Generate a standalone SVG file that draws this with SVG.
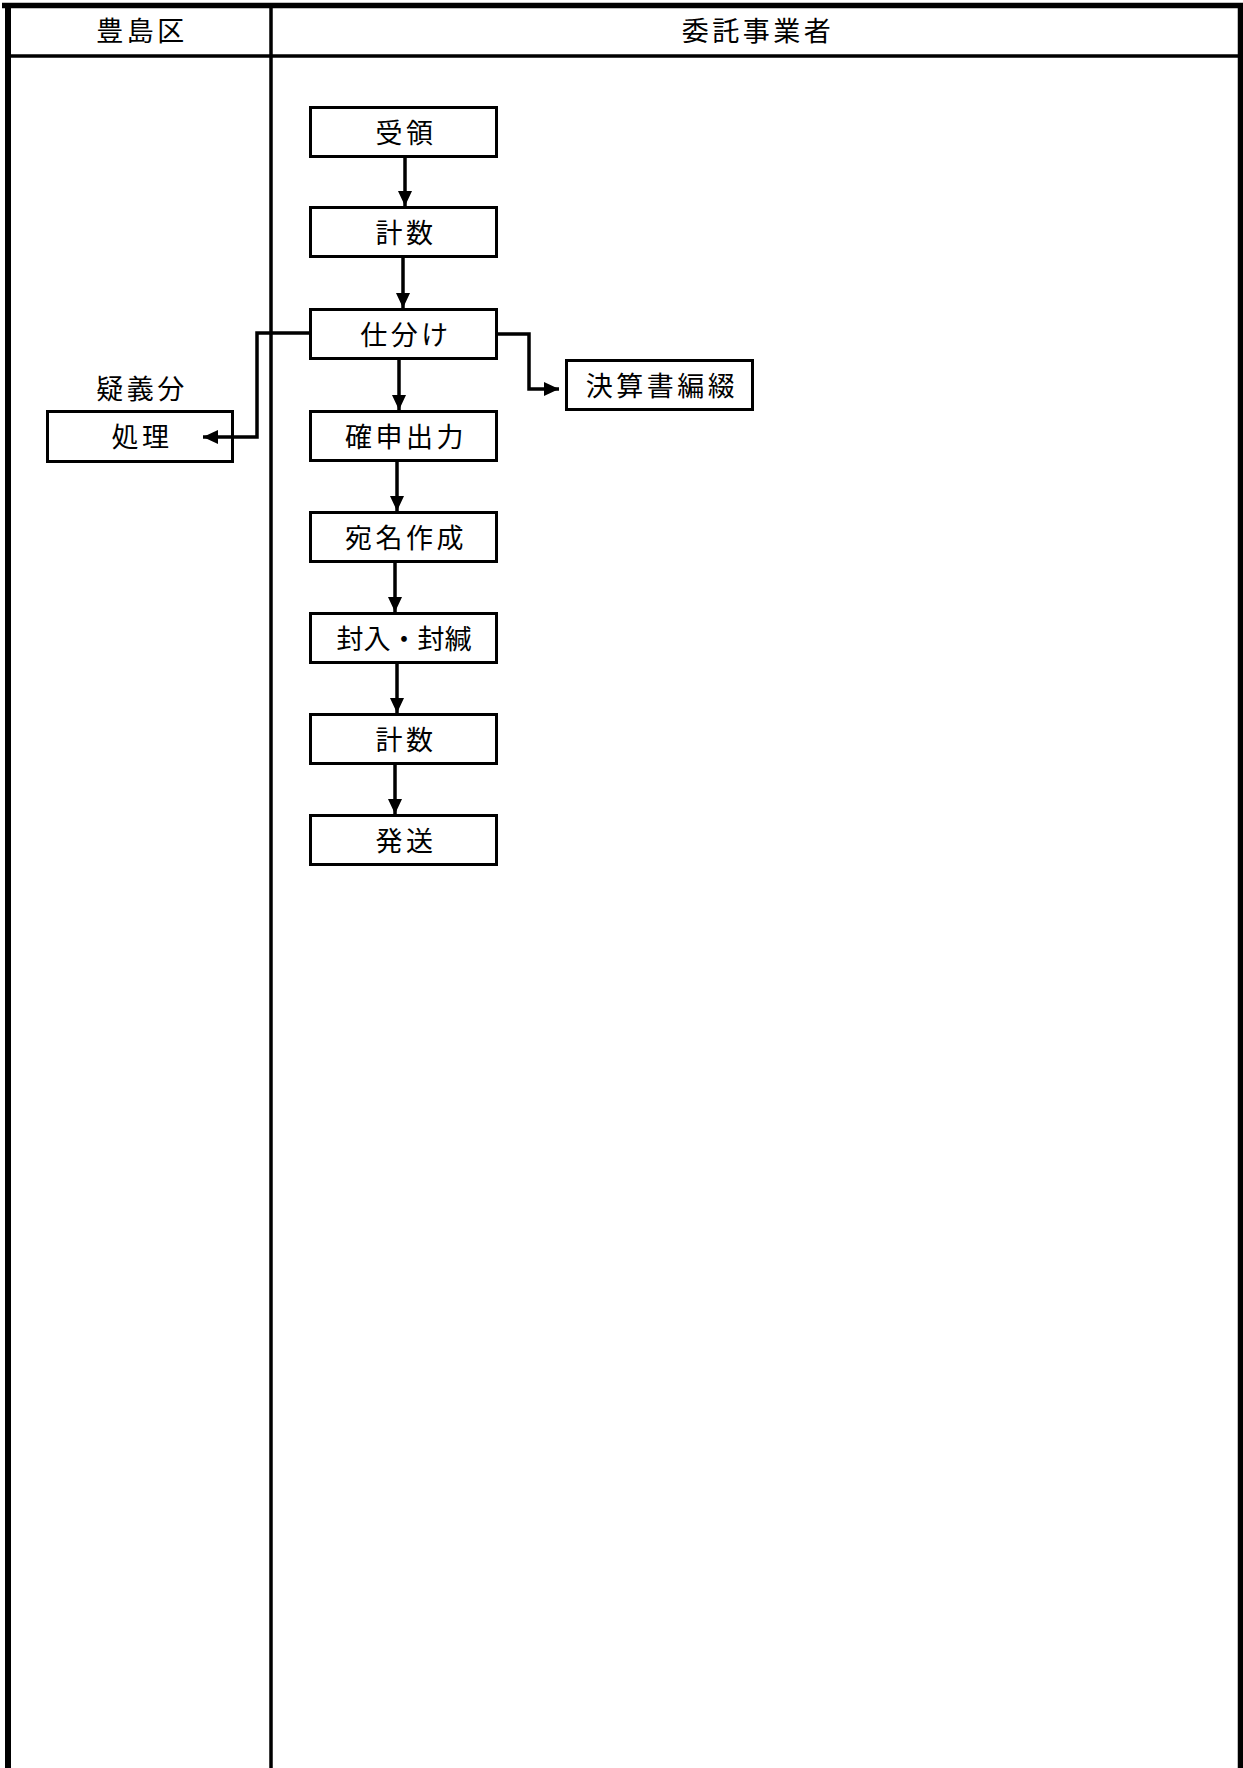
<svg xmlns="http://www.w3.org/2000/svg" width="1243" height="1768" viewBox="0 0 1243 1768">
<style>
.t{font-family:"Noto Sans CJK JP","Noto Sans CJK SC",sans-serif;font-size:27px;letter-spacing:3.5px;text-anchor:middle;dominant-baseline:central;fill:#000}
.tight{letter-spacing:0}
.box{fill:#fff;stroke:#000;stroke-width:3}
.c{fill:none;stroke:#000;stroke-width:3.5}
</style>
<defs>
<marker id="ah" markerUnits="userSpaceOnUse" markerWidth="16" markerHeight="14" refX="15" refY="7" orient="auto">
<path d="M0,0 L15,7 L0,14 z" fill="#000"/>
</marker>
</defs>
<rect width="1243" height="1768" fill="#fff"/>
<g id="frame">
<line x1="2" y1="5.5" x2="1243" y2="5.5" stroke="#000" stroke-width="5.5"/>
<line x1="8" y1="3" x2="8" y2="1768" stroke="#000" stroke-width="6"/>
<line x1="1240.5" y1="3" x2="1240.5" y2="1768" stroke="#000" stroke-width="5.5"/>
<line x1="8" y1="56" x2="1240" y2="56" stroke="#000" stroke-width="3.5"/>
<line x1="271" y1="5" x2="271" y2="1768" stroke="#000" stroke-width="3.5"/>
</g>
<g id="header">
<text class="t" x="142" y="29.5">豊島区</text>
<text class="t" x="758" y="29.5">委託事業者</text>
</g>
<g id="connectors">
<line class="c" x1="405" y1="158" x2="405" y2="206" marker-end="url(#ah)"/>
<line class="c" x1="403" y1="258" x2="403" y2="308" marker-end="url(#ah)"/>
<line class="c" x1="399" y1="360" x2="399" y2="410" marker-end="url(#ah)"/>
<line class="c" x1="397" y1="462" x2="397" y2="511" marker-end="url(#ah)"/>
<line class="c" x1="395" y1="563" x2="395" y2="612" marker-end="url(#ah)"/>
<line class="c" x1="397" y1="664" x2="397" y2="713" marker-end="url(#ah)"/>
<line class="c" x1="395" y1="765" x2="395" y2="814" marker-end="url(#ah)"/>
<path class="c" d="M497,334 H529 V389 H559" marker-end="url(#ah)"/>
</g>
<g id="n-shori">
<rect class="box" x="47.5" y="411.5" width="185" height="50"/>
<text class="t" x="142" y="435">処理</text>
</g>
<g id="c-shiwake-left">
<path class="c" d="M309,333 H257 V437 H203" marker-end="url(#ah)"/>
</g>
<g id="n-gigi">
<text class="t" x="142" y="387">疑義分</text>
</g>
<g id="n-juryo">
<rect class="box" x="310.5" y="107.5" width="186" height="49"/>
<text class="t" x="406" y="131">受領</text>
</g>
<g id="n-keisu1">
<rect class="box" x="310.5" y="207.5" width="186" height="49"/>
<text class="t" x="406" y="231">計数</text>
</g>
<g id="n-shiwake">
<rect class="box" x="310.5" y="309.5" width="186" height="49"/>
<text class="t" x="406" y="333">仕分け</text>
</g>
<g id="n-kessan">
<rect class="box" x="566.5" y="360.5" width="186" height="49"/>
<text class="t" x="662" y="384">決算書編綴</text>
</g>
<g id="n-kakushin">
<rect class="box" x="310.5" y="411.5" width="186" height="49"/>
<text class="t" x="406" y="435">確申出力</text>
</g>
<g id="n-atena">
<rect class="box" x="310.5" y="512.5" width="186" height="49"/>
<text class="t" x="406" y="536">宛名作成</text>
</g>
<g id="n-fuunyu">
<rect class="box" x="310.5" y="613.5" width="186" height="49"/>
<text class="t tight" x="404" y="637">封入・封緘</text>
</g>
<g id="n-keisu2">
<rect class="box" x="310.5" y="714.5" width="186" height="49"/>
<text class="t" x="406" y="738">計数</text>
</g>
<g id="n-hasso">
<rect class="box" x="310.5" y="815.5" width="186" height="49"/>
<text class="t" x="406" y="839">発送</text>
</g>
</svg>
